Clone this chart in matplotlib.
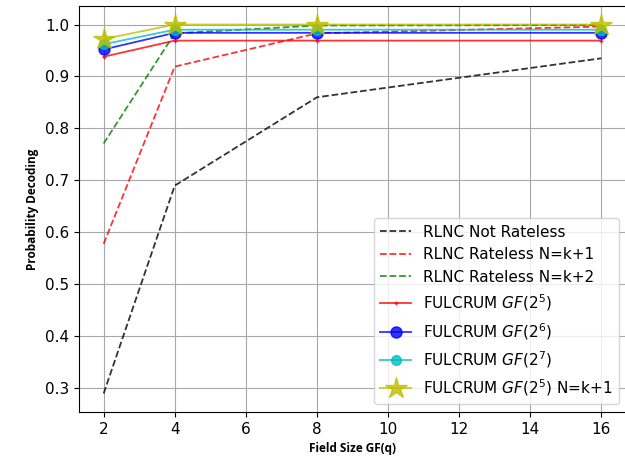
import matplotlib
matplotlib.use('Agg')
import matplotlib.pyplot as plt

q = [2, 4, 8, 16]
rlnc_not_rateless = [0.29, 0.69, 0.86, 0.935]
rlnc_k1 = [0.578, 0.919, 0.983, 0.996]
rlnc_k2 = [0.771, 0.983, 0.998, 0.999]
fulcrum5 = [0.938, 0.969, 0.969, 0.969]
fulcrum6 = [0.952, 0.984, 0.984, 0.984]
fulcrum7 = [0.962, 0.990, 0.990, 0.990]
fulcrum5_k1 = [0.972, 1.0, 1.0, 1.0]

fig = plt.figure(figsize=(6.25, 4.66), dpi=100)
ax = fig.add_axes([0.126, 0.116, 0.876, 0.871])

ax.plot(q, rlnc_not_rateless, 'k--', lw=1.3, alpha=0.8, label='RLNC Not Rateless')
ax.plot(q, rlnc_k1, 'r--', lw=1.3, alpha=0.8, label='RLNC Rateless N=k+1')
ax.plot(q, rlnc_k2, 'g--', lw=1.3, alpha=0.8, label='RLNC Rateless N=k+2')
ax.plot(q, fulcrum5, 'r-', marker='+', ms=3, lw=1.3, alpha=0.8, label=r'FULCRUM $GF(2^5)$')
ax.plot(q, fulcrum6, 'b-', marker='o', ms=8, lw=1.3, alpha=0.8, label=r'FULCRUM $GF(2^6)$')
ax.plot(q, fulcrum7, 'c-', marker='o', ms=7, lw=1.3, alpha=0.8, label=r'FULCRUM $GF(2^7)$')
ax.plot(q, fulcrum5_k1, 'y-', marker='*', ms=16, lw=1.3, alpha=0.8, label=r'FULCRUM $GF(2^5)$ N=k+1')

ax.grid(True, color='#a8a8a8')
ax.tick_params(labelsize=11)
ax.set_xlabel('Field Size GF(q)', fontsize=8.5, fontweight='bold', family='Open Sans')
ax.set_ylabel('Probability Decoding', fontsize=8.5, fontweight='bold', family='Open Sans')
ax.legend(loc='lower right', fontsize=11)

fig.savefig('out.png', dpi=100)
